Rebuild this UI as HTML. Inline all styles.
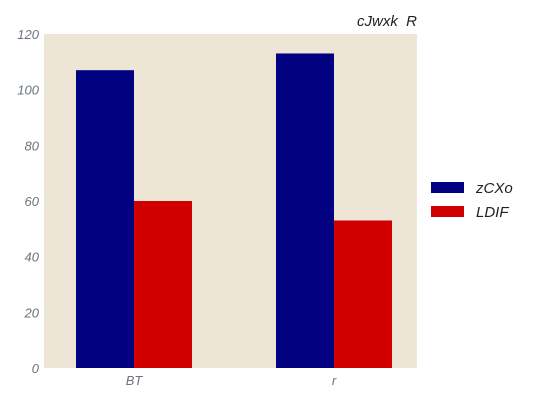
<!DOCTYPE html>
<html><head><meta charset="utf-8"><style>
body{margin:0;background:#fff;}
svg{display:block;font-family:"Liberation Sans",sans-serif;font-style:italic;}
</style></head><body>
<svg id="chart" width="536" height="402">
<rect x="44" y="34" width="373" height="334" fill="#ede6d6"/>
<g id="bars"></g>
<g id="yticks"></g>
<g id="xticks"></g>
<text x="417" y="26" text-anchor="end" font-size="15" fill="#222" style="white-space:pre">cJwxk  R</text>
<g>
<rect x="431" y="182" width="33" height="11" fill="#000080"/>
<text x="476" y="193" font-size="15" fill="#222">zCXo</text>
<rect x="431" y="206" width="33" height="11" fill="#d00000"/>
<text x="476" y="217" font-size="15" fill="#222">LDIF</text>
</g>
</svg>
<script>
const categories=["BT","r"];
const seriesNames=["zCXo","LDIF"];
const zcxoValues=[107,113];
const ldifValues=[60,53];
const yTicks=[0,20,40,60,80,100,120];
const colors=["#000080","#d00000"];
const NS="http://www.w3.org/2000/svg";
function y(v){return 368-v*(334/120);}
function xc(i){return 134+i*200;}
const barW=58;
const bars=document.getElementById('bars');
[zcxoValues,ldifValues].forEach((vals,s)=>{
  vals.forEach((v,i)=>{
    const r=document.createElementNS(NS,'rect');
    r.setAttribute('x',xc(i)+(s===0?-barW:0));
    r.setAttribute('y',y(v));
    r.setAttribute('width',barW);
    r.setAttribute('height',y(0)-y(v));
    r.setAttribute('fill',colors[s]);
    
    
    bars.appendChild(r);
  });
});
const yt=document.getElementById('yticks');
yTicks.forEach(t=>{
  const tx=document.createElementNS(NS,'text');
  tx.setAttribute('x',39);tx.setAttribute('y',y(t)+5);
  tx.setAttribute('text-anchor','end');tx.setAttribute('font-size','13');tx.setAttribute('fill','#6a7480');
  tx.textContent=t;
  
  
  yt.appendChild(tx);
});
const xt=document.getElementById('xticks');
categories.forEach((c,i)=>{
  const tx=document.createElementNS(NS,'text');
  tx.setAttribute('x',xc(i));tx.setAttribute('y',385);
  tx.setAttribute('text-anchor','middle');tx.setAttribute('font-size','13');tx.setAttribute('fill','#6a7480');
  tx.textContent=c;
  
  
  xt.appendChild(tx);
});
</script>
</body></html>
